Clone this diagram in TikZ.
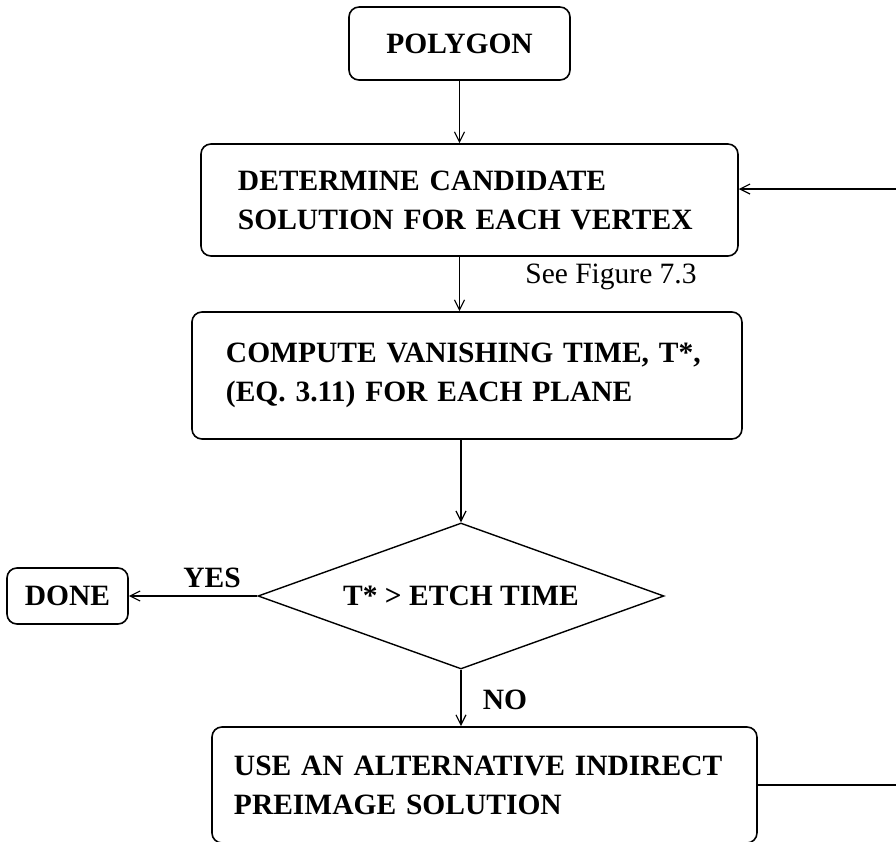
\documentclass[tikz,border=0pt]{standalone}
\usepackage{fontspec}
\setmainfont{Liberation Serif}
\usetikzlibrary{arrows.meta, positioning, shapes.geometric}

\begin{document}
\begin{tikzpicture}[
    >={Straight Barb[length=5pt,width=5pt]},
    every node/.style={font=\bfseries\fontsize{14.75}{19.5}\selectfont},
    box/.style={rectangle, draw, rounded corners=5pt, line width=0.8pt, align=left},
    decision/.style={diamond, draw, line width=0.7pt, aspect=2.78, inner sep=0pt},
    flow/.style={->, line width=0.6pt}
]
    \useasboundingbox (0,0) rectangle (15.746,14.797);
    \clip (0,0) rectangle (15.746,14.797);

    % Nodes ------------------------------------------------------

    \node[box, align=center, minimum width=110.5pt, minimum height=36.5pt] (polygon) at (8.075,14.032) {POLYGON};
    \node[box, minimum width=268.5pt, minimum height=56pt, inner xsep=18.5pt, text width=231.5pt] (candidate) at (8.25,11.282) {DETERMINE CANDIDATE\\SOLUTION FOR EACH VERTEX};
    \node[font=\fontsize{14.75}{19.5}\selectfont] (seefig) at (10.737,9.929) {See Figure 7.3};
    \node[box, minimum width=275pt, minimum height=63.5pt, inner xsep=17pt, text width=241pt] (compute) at (8.206,8.198) {COMPUTE VANISHING TIME, T*,\\(EQ. 3.11) FOR EACH PLANE};
    \node[decision, minimum width=203pt, minimum height=73pt] (test) at (8.101,4.323) {T* > ETCH TIME};
    \node[box, align=center, minimum width=60.5pt, minimum height=28pt, inner sep=0pt] (done) at (1.186,4.323) {DONE};
    \node (yes) at (3.725,4.639) {YES};
    \node (no) at (8.874,2.495) {NO};
    \node[box, minimum width=272.5pt, minimum height=58pt, inner xsep=11pt, text width=250.5pt] (alt) at (8.514,1.002) {USE AN ALTERNATIVE INDIRECT\\PREIMAGE SOLUTION};
    \coordinate (back) at (16.4,0);

    % Arrows ---------------------------------------------------

    % Main line down
    \draw[flow] (polygon) -- (polygon |- candidate.north);
    \draw[flow] (candidate.south -| polygon) -- (compute.north -| polygon);
    \draw[flow] (compute.south -| test) -- (test);
    \draw[flow] (test) -- (test |- alt.north);

    % Exit and loop back
    \draw[flow] (test) -- (done);
    \draw[flow] (alt.east) -- (alt.east -| back) |- ([yshift=5.5pt]candidate.east);

\end{tikzpicture}
\end{document}
